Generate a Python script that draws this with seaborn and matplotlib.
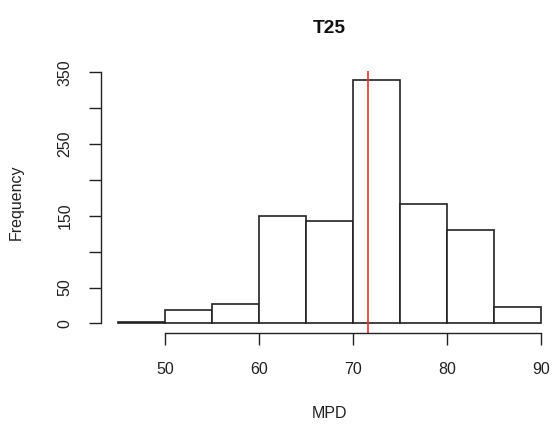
import matplotlib
matplotlib.use("Agg")
import matplotlib.pyplot as plt
import seaborn as sns

# MPD histogram: bin edges, counts per bin, and the marked reference value
bin_edges = [45, 50, 55, 60, 65, 70, 75, 80, 85, 90]
counts = [2, 19, 27, 150, 143, 339, 167, 130, 23]
marker_value = 71.6
x_ticks = [50, 60, 70, 80, 90]
y_ticks = [0, 50, 100, 150, 200, 250, 300, 350]
y_tick_labels = ["0", "50", "", "150", "", "250", "", "350"]

sns.set_style("white")
plt.rcParams["font.family"] = ["Liberation Sans", "DejaVu Sans"]

fig = plt.figure(figsize=(5.56, 4.30), dpi=100)
ax = fig.add_axes([101 / 556, 1 - 333.2 / 430, 456.6 / 556, 262.6 / 430])

mids = [(a + b) / 2 for a, b in zip(bin_edges[:-1], bin_edges[1:])]
sns.histplot(x=mids, weights=counts, bins=bin_edges, ax=ax,
             color="white", edgecolor="#222222", linewidth=1.2, alpha=1.0)
ax.axvline(marker_value, color="#e8322f", linewidth=1.2)

ax.set_xlim(43.2, 91.8)
ax.set_ylim(-13.56, 352.56)

for side in ["top", "right"]:
    ax.spines[side].set_visible(False)
ax.spines["bottom"].set_bounds(50, 90)
ax.spines["left"].set_bounds(0, 350)
for side in ["bottom", "left"]:
    ax.spines[side].set_color("#222222")
    ax.spines[side].set_linewidth(1.0)

ax.set_xticks(x_ticks)
ax.set_xticklabels([str(t) for t in x_ticks])
ax.set_yticks(y_ticks)
ax.set_yticklabels(y_tick_labels, rotation=90, va="center")
ax.tick_params(axis="both", direction="out", length=8.5, width=1.0,
               color="#222222", labelsize=11.5, labelcolor="#222222", pad=12,
               bottom=True, left=True)

ax.set_xlabel("MPD", fontsize=11.5, color="#222222", labelpad=21)
ax.set_ylabel("Frequency", fontsize=11.5, color="#222222", labelpad=24)
ax.set_title("T25", fontsize=13.8, fontweight="bold", color="#111111", pad=27)

fig.savefig("out.png", dpi=100)
